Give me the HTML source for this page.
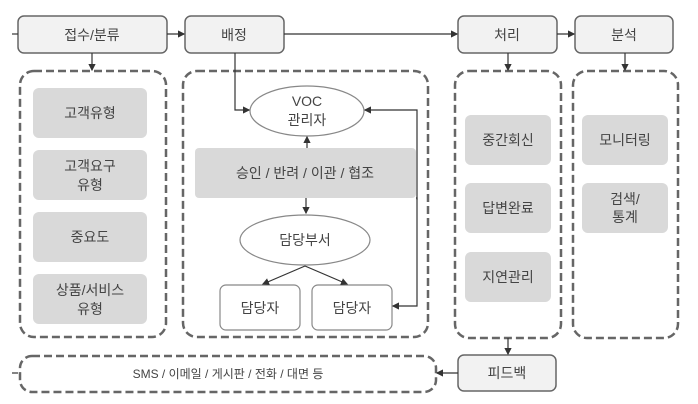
<!DOCTYPE html>
<html><head><meta charset="utf-8"><style>
html,body{margin:0;padding:0;background:#fff;}
svg{display:block;}
text{font-family:"Liberation Sans","Noto Sans CJK KR",sans-serif;font-size:14px;fill:#444;text-anchor:middle;dominant-baseline:central;}
</style></head><body>
<svg width="698" height="404" viewBox="0 0 698 404" xmlns="http://www.w3.org/2000/svg">
<defs><marker id="a" markerWidth="6" markerHeight="6" refX="5" refY="3" orient="auto"><path d="M0,0L6,3L0,6z" fill="#333"/></marker></defs>
<g stroke="#666" stroke-width="1.5" fill="#f2f2f2">
<rect x="18" y="16" width="149" height="37" rx="6"/>
<rect x="185" y="16" width="99" height="37" rx="6"/>
<rect x="458" y="16" width="99" height="37" rx="6"/>
<rect x="575" y="16" width="98" height="37" rx="6"/>
<rect x="458" y="355" width="98" height="36" rx="6"/>
</g>
<g stroke="#666" stroke-width="2.5" stroke-dasharray="8,4" fill="none">
<rect x="20" y="71" width="146" height="266" rx="14"/>
<rect x="183" y="71" width="245" height="266" rx="14"/>
<rect x="455" y="71" width="106" height="267" rx="14"/>
<rect x="573" y="71" width="105" height="267" rx="14"/>
<rect x="20" y="356" width="416" height="36" rx="12"/>
</g>
<g fill="#d9d9d9">
<rect x="33" y="88" width="114" height="50" rx="6"/>
<rect x="33" y="150" width="114" height="50" rx="6"/>
<rect x="33" y="212" width="114" height="50" rx="6"/>
<rect x="33" y="274" width="114" height="50" rx="6"/>
<rect x="195" y="148" width="221" height="50" rx="4"/>
<rect x="465" y="115" width="86" height="50" rx="6"/>
<rect x="465" y="183" width="86" height="50" rx="6"/>
<rect x="465" y="252" width="86" height="50" rx="6"/>
<rect x="582" y="115" width="86" height="50" rx="6"/>
<rect x="582" y="183" width="86" height="50" rx="6"/>
</g>
<g stroke="#888" stroke-width="1.2" fill="#fff">
<ellipse cx="307" cy="111" rx="57" ry="25"/>
<ellipse cx="305" cy="240" rx="65" ry="25"/>
<rect x="220" y="285" width="80" height="45" rx="6"/>
<rect x="312" y="285" width="80" height="45" rx="6"/>
</g>
<g stroke="#333" stroke-width="1.2" fill="none" marker-end="url(#a)">
<line x1="12" y1="34" x2="18" y2="34" marker-end="none"/>
<line x1="167" y1="34" x2="184" y2="34"/>
<line x1="284" y1="34" x2="457" y2="34"/>
<line x1="557" y1="34" x2="574" y2="34"/>
<line x1="92" y1="53" x2="92" y2="70"/>
<line x1="508" y1="53" x2="508" y2="70"/>
<line x1="625" y1="53" x2="625" y2="70"/>
<polyline points="235,53 235,110 249,110"/>
<line x1="307" y1="148" x2="307" y2="137"/>
<line x1="306" y1="198" x2="306" y2="213"/>
<polyline points="305,266 263,284"/>
<polyline points="305,266 347,284"/>
<polyline points="416,198 417,198 417,306 393,306" />
<polyline points="417,200 417,110 365,110"/>
<line x1="508" y1="338" x2="508" y2="354"/>
<line x1="458" y1="373" x2="437" y2="373"/>
<line x1="18" y1="373" x2="12" y2="373" marker-end="none"/>
</g>
<text x="92" y="35">접수/분류</text>
<text x="234" y="35">배정</text>
<text x="507" y="35">처리</text>
<text x="624" y="35">분석</text>
<text x="90" y="113">고객유형</text>
<text x="90" y="166">고객요구</text><text x="90" y="185">유형</text>
<text x="90" y="237">중요도</text>
<text x="90" y="290">상품/서비스</text><text x="90" y="309">유형</text>
<text x="307" y="101">VOC</text><text x="307" y="120">관리자</text>
<text x="305" y="173">승인 / 반려 / 이관 / 협조</text>
<text x="305" y="240">담당부서</text>
<text x="260" y="308">담당자</text>
<text x="352" y="308">담당자</text>
<text x="508" y="140">중간회신</text>
<text x="508" y="208">답변완료</text>
<text x="508" y="277">지연관리</text>
<text x="625" y="140">모니터링</text>
<text x="625" y="199">검색/</text><text x="625" y="217">통계</text>
<text x="507" y="373">피드백</text>
<text x="228" y="374" style="font-size:12px">SMS / 이메일 / 게시판 / 전화 / 대면 등</text>
</svg>
</body></html>
